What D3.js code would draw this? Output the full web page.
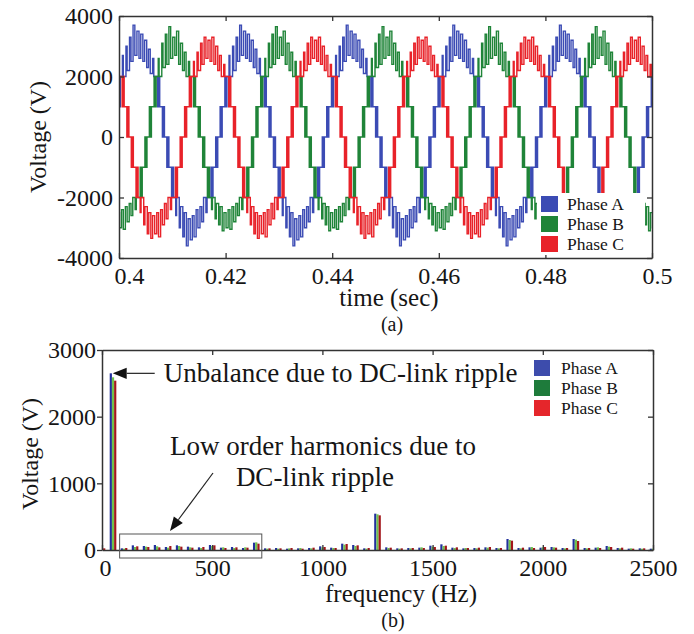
<!DOCTYPE html>
<html><head><meta charset="utf-8">
<script src="https://cdn.jsdelivr.net/npm/d3@7"></script>
<style>
html,body{margin:0;padding:0;background:#fff;}
svg text{font-family:"Liberation Serif","Times New Roman",serif;fill:#151515;}
</style></head><body>
<svg id="chart" width="694" height="634"></svg>
<script>
// ---------------- data: (a) phase voltages ----------------
const timeTicks = [0.4, 0.42, 0.44, 0.46, 0.48, 0.5];
const voltTicksA = [-4000, -2000, 0, 2000, 4000];
const phaseNames = ["Phase A", "Phase B", "Phase C"];
const periodSec = 0.02;                       // 50 Hz fundamental
const phaseStartDeg = [22.5, 262.5, 142.5];   // electrical angle of each phase at t = 0.4 s

// one period of each phase's switched output: [electrical angle (deg), level (V)], held until next entry
const phaseACycle = [
  [0,0],[4,1000],[7,0],[11,1000],[20,2000],[23,1000],[27,2000],[34,2700],[37,2000],[46,3000],[50,2200],
  [58,3300],[63,2500],[70,3700],[76,2700],[83,3500],[90,2600],[96,3400],[103,2500],[109,3200],[116,2300],
  [122,2900],[128,2100],[136,2600],[140,2000],[153,1000],[157,2000],[160,1000],[169,0],[173,1000],[176,0],
  [180,0],[184,-1000],[187,0],[191,-1000],[200,-2000],[203,-1000],[207,-2000],[214,-2600],[217,-2000],
  [226,-3000],[230,-2300],[238,-3300],[243,-2500],[250,-3600],[256,-2700],[263,-3400],[270,-2600],
  [276,-3300],[283,-2400],[289,-3000],[296,-2300],[302,-2800],[308,-2000],[316,-2500],[320,-2000],
  [333,-1000],[337,-2000],[340,-1000],[349,0],[353,-1000],[356,0]
];
const phaseBCycle = [
  [0,0],[5,1000],[8,0],[12,1000],[21,2000],[24,1000],[28,2000],[35,2600],[38,2000],[47,3100],[51,2300],
  [59,3400],[64,2400],[71,3650],[77,2600],[84,3300],[91,2700],[97,3500],[104,2400],[110,3100],[117,2200],
  [123,2800],[129,2000],[137,2500],[141,2000],[154,1000],[158,2000],[161,1000],[170,0],[174,1000],[177,0],
  [180,0],[185,-1000],[188,0],[192,-1000],[201,-2000],[204,-1000],[208,-2000],[215,-2400],[218,-2000],
  [227,-2700],[231,-2200],[239,-2900],[244,-2300],[251,-3100],[257,-2500],[264,-3000],[271,-2400],
  [277,-3050],[284,-2300],[290,-2800],[297,-2200],[303,-2600],[309,-2000],[317,-2400],[321,-2000],
  [334,-1000],[338,-2000],[341,-1000],[350,0],[354,-1000],[357,0]
];
const phaseCCycle = [
  [0,0],[4,1000],[7,0],[11,1000],[20,2000],[23,1000],[27,2000],[34,2500],[37,2000],[46,2800],[50,2200],
  [58,3100],[63,2400],[70,3300],[76,2600],[83,3200],[90,2500],[96,3300],[103,2400],[109,3000],[116,2200],
  [122,2700],[128,2000],[136,2400],[140,2000],[153,1000],[157,2000],[160,1000],[169,0],[173,1000],[176,0],
  [180,0],[184,-1000],[187,0],[191,-1000],[200,-2000],[203,-1000],[207,-2000],[214,-2500],[217,-2000],
  [226,-2900],[230,-2300],[238,-3200],[243,-2500],[250,-3350],[256,-2600],[263,-3200],[270,-2500],
  [276,-3300],[283,-2400],[289,-2900],[296,-2200],[302,-2700],[308,-2000],[316,-2400],[320,-2000],
  [333,-1000],[337,-2000],[340,-1000],[349,0],[353,-1000],[356,0]
];

// ---------------- data: (b) spectrum ----------------
const freqTicks = [0, 500, 1000, 1500, 2000, 2500];
const voltTicksB = [0, 1000, 2000, 3000];
const harmonicFreqs = [
  0,50,100,150,200,250,300,350,400,450,500,550,600,650,700,750,800,850,900,950,
  1000,1050,1100,1150,1200,1250,1300,1350,1400,1450,1500,1550,1600,1650,1700,1750,1800,1850,1900,1950,
  2000,2050,2100,2150,2200,2250,2300,2350,2400,2450,2500
];
const specA = [
  15,2650,25,70,60,75,45,70,50,40,75,35,45,30,110,25,30,20,25,30,
  55,35,95,75,25,545,40,25,30,35,65,85,35,25,30,40,30,165,30,40,
  35,45,30,165,30,35,60,30,20,25,20
];
const specB = [
  10,2590,20,45,50,55,35,60,40,30,60,40,30,40,115,20,20,25,30,25,
  40,30,80,60,20,535,30,20,25,40,50,60,30,30,25,35,25,150,25,45,
  40,40,25,155,25,40,50,25,25,20,20
];
const specC = [
  25,2540,30,55,45,40,60,50,35,45,70,30,40,35,95,25,25,30,20,35,
  45,30,90,70,30,520,35,25,30,30,45,65,40,30,35,45,30,140,35,30,
  45,35,30,135,30,30,45,35,20,25,20
];

// ---------------- styling ----------------
const lineColors = ["#3b4bb4", "#1f8438", "#e82229"];
const barColors = ["#22309c", "#6fc24c", "#a3161b"];
const legendColorsB = ["#3d4cac", "#1e7b3b", "#e5262b"];
const axisColor = "#333";
const plain = d => String(d);

const svg = d3.select("#chart");
const defs = svg.append("defs");

function styleAxis(g, fontSize) {
  g.select(".domain").attr("stroke", axisColor).attr("stroke-width", 1.5);
  g.selectAll(".tick line").attr("stroke", axisColor).attr("stroke-width", 1.3);
  g.selectAll(".tick text").attr("font-size", fontSize).attr("fill", "#151515");
}

// ================= (a) time-domain waveforms =================
const ax = {l: 119, r: 652, t: 16, b: 258};
const xA = d3.scaleLinear().domain([0.4, 0.5]).range([ax.l, ax.r]);
const yA = d3.scaleLinear().domain([-4000, 4000]).range([ax.b, ax.t]);

defs.append("clipPath").attr("id", "clipA").append("rect")
  .attr("x", ax.l).attr("y", ax.t).attr("width", ax.r - ax.l).attr("height", ax.b - ax.t);

// lay each phase's period out along the time window
function phaseSeries(cycle, startDeg) {
  const pts = [];
  for (let k = -1; k <= 6; k++) {
    cycle.forEach(([deg, v]) => {
      const t = 0.4 + ((k * 360 + deg - startDeg) / 360) * periodSec;
      if (t >= 0.37 && t <= 0.53) pts.push({t, v});
    });
  }
  return pts;
}
const cycles = [phaseACycle, phaseBCycle, phaseCCycle];
const lineGen = d3.line().x(d => xA(d.t)).y(d => yA(d.v)).curve(d3.curveStepAfter);

const gLines = svg.append("g").attr("clip-path", "url(#clipA)");
cycles.forEach((c, i) => {
  gLines.append("path")
    .datum(phaseSeries(c, phaseStartDeg[i]))
    .attr("d", lineGen)
    .attr("fill", "none")
    .attr("stroke", lineColors[i])
    .attr("stroke-width", 1.4)
    .attr("stroke-linejoin", "miter");
});

// axes (ticks point inward on every side)
const gxA = svg.append("g").attr("transform", `translate(0,${ax.b})`)
  .call(d3.axisBottom(xA).tickValues(timeTicks).tickSizeInner(-5).tickSizeOuter(0)
    .tickPadding(9).tickFormat(plain));
styleAxis(gxA, 24);
gxA.selectAll(".tick text").filter(d => d === 0.4).attr("dx", 10);
gxA.selectAll(".tick text").filter(d => d === 0.5).attr("dx", 5);

const gxAt = svg.append("g").attr("transform", `translate(0,${ax.t})`)
  .call(d3.axisTop(xA).tickValues(timeTicks).tickSizeInner(-5).tickSizeOuter(0).tickFormat(""));
styleAxis(gxAt, 24);

const gyA = svg.append("g").attr("transform", `translate(${ax.l},0)`)
  .call(d3.axisLeft(yA).tickValues(voltTicksA).tickSizeInner(-5).tickSizeOuter(0)
    .tickPadding(6).tickFormat(plain));
styleAxis(gyA, 24);

const gyAr = svg.append("g").attr("transform", `translate(${ax.r},0)`)
  .call(d3.axisRight(yA).tickValues(voltTicksA).tickSizeInner(-5).tickSizeOuter(0).tickFormat(""));
styleAxis(gyAr, 24);

// legend (a)
const legRowA = 20;
const legA = svg.append("g").attr("transform", "translate(537,193)");
legA.append("rect").attr("width", 108).attr("height", 3 * legRowA + 2).attr("fill", "#fff");
phaseNames.forEach((n, i) => {
  legA.append("rect").attr("x", 4).attr("y", 3 + i * legRowA).attr("width", 17).attr("height", 16)
    .attr("fill", lineColors[i]);
  legA.append("text").attr("x", 30).attr("y", 17 + i * legRowA).attr("font-size", 17.5).text(n);
});

svg.append("text").attr("transform", `translate(38,${(ax.t + ax.b) / 2}) rotate(-90)`)
  .attr("text-anchor", "middle").attr("dy", "0.35em").attr("font-size", 24).text("Voltage (V)");
svg.append("text").attr("x", 389).attr("y", 306).attr("text-anchor", "middle")
  .attr("font-size", 25).text("time (sec)");
svg.append("text").attr("x", 392).attr("y", 331).attr("text-anchor", "middle")
  .attr("font-size", 20).text("(a)");

// ================= (b) spectrum =================
const bx = {l: 102, r: 653, t: 350, b: 550};
const xB = d3.scaleLinear().domain([0, 2500]).range([bx.l, bx.r]);
const yB = d3.scaleLinear().domain([0, 3000]).range([bx.b, bx.t]);

defs.append("clipPath").attr("id", "clipB").append("rect")
  .attr("x", bx.l).attr("y", bx.t).attr("width", bx.r - bx.l).attr("height", bx.b - bx.t);

const barHz = 10;                        // width of one phase's bar, in Hz
const barOffsets = [-1.5, -0.5, 0.5];    // A, B, C placed side by side around each harmonic
const specs = [specA, specB, specC];
const gBars = svg.append("g").attr("clip-path", "url(#clipB)");
specs.forEach((vals, p) => {
  gBars.selectAll(null)
    .data(harmonicFreqs.map((f, i) => ({f, v: vals[i]})))
    .join("rect")
    .attr("x", d => xB(d.f + barOffsets[p] * barHz))
    .attr("width", d => xB(d.f + (barOffsets[p] + 1) * barHz) - xB(d.f + barOffsets[p] * barHz))
    .attr("y", d => yB(d.v))
    .attr("height", d => yB(0) - yB(d.v))
    .attr("fill", barColors[p]);
});

const gxB = svg.append("g").attr("transform", `translate(0,${bx.b})`)
  .call(d3.axisBottom(xB).tickValues(freqTicks).tickSizeInner(-5).tickSizeOuter(0)
    .tickPadding(9).tickFormat(plain));
styleAxis(gxB, 24);
gxB.selectAll(".tick text").filter(d => d === 0).attr("dx", 3);

const gxBt = svg.append("g").attr("transform", `translate(0,${bx.t})`)
  .call(d3.axisTop(xB).tickValues(freqTicks).tickSizeInner(-5).tickSizeOuter(0).tickFormat(""));
styleAxis(gxBt, 24);

const gyB = svg.append("g").attr("transform", `translate(${bx.l},0)`)
  .call(d3.axisLeft(yB).tickValues(voltTicksB).tickSizeInner(5).tickSizeOuter(0)
    .tickPadding(1).tickFormat(plain));
styleAxis(gyB, 24);

const gyBr = svg.append("g").attr("transform", `translate(${bx.r},0)`)
  .call(d3.axisRight(yB).tickValues(voltTicksB).tickSizeInner(-5).tickSizeOuter(0).tickFormat(""));
styleAxis(gyBr, 24);

// legend (b)
const legRowB = 20;
const legB = svg.append("g").attr("transform", "translate(534,359)");
phaseNames.forEach((n, i) => {
  legB.append("rect").attr("x", 0).attr("y", 1 + i * legRowB).attr("width", 16).attr("height", 16)
    .attr("fill", legendColorsB[i]);
  legB.append("text").attr("x", 27).attr("y", 15 + i * legRowB).attr("font-size", 17.5).text(n);
});

// annotations
function arrow(x1, y1, x2, y2, head) {
  const ang = Math.atan2(y2 - y1, x2 - x1);
  const bxp = x2 - head * Math.cos(ang), byp = y2 - head * Math.sin(ang);
  const w = head * 0.4;
  svg.append("line").attr("x1", x1).attr("y1", y1).attr("x2", bxp).attr("y2", byp)
    .attr("stroke", "#222").attr("stroke-width", 1.2);
  svg.append("path")
    .attr("d", `M${x2},${y2}L${bxp - w * Math.sin(ang)},${byp + w * Math.cos(ang)}L${bxp + w * Math.sin(ang)},${byp - w * Math.cos(ang)}Z`)
    .attr("fill", "#111");
}
const tipX = xB(50 + barOffsets[0] * barHz) + 3, tipY = yB(specA[1]);
arrow(tipX + 42, tipY, tipX, tipY, 14);
svg.append("text").attr("x", tipX + 51).attr("y", 382).attr("font-size", 27)
  .text("Unbalance due to DC-link ripple");

svg.append("text").attr("x", 170).attr("y", 455).attr("font-size", 27).text("Low order harmonics due to");
svg.append("text").attr("x", 315).attr("y", 486).attr("text-anchor", "middle").attr("font-size", 27)
  .text("DC-link ripple");
arrow(213, 473, 170, 531, 14);

svg.append("rect")
  .attr("x", xB(80)).attr("y", yB(240))
  .attr("width", xB(725) - xB(80)).attr("height", yB(-120) - yB(240))
  .attr("fill", "none").attr("stroke", "#555").attr("stroke-width", 1);

svg.append("text").attr("transform", `translate(30,${(bx.t + bx.b) / 2 + 4}) rotate(-90)`)
  .attr("text-anchor", "middle").attr("dy", "0.35em").attr("font-size", 24).text("Voltage (V)");
svg.append("text").attr("x", 401).attr("y", 602).attr("text-anchor", "middle")
  .attr("font-size", 25).text("frequency (Hz)");
svg.append("text").attr("x", 393).attr("y", 627).attr("text-anchor", "middle")
  .attr("font-size", 20).text("(b)");
</script>
</body></html>
